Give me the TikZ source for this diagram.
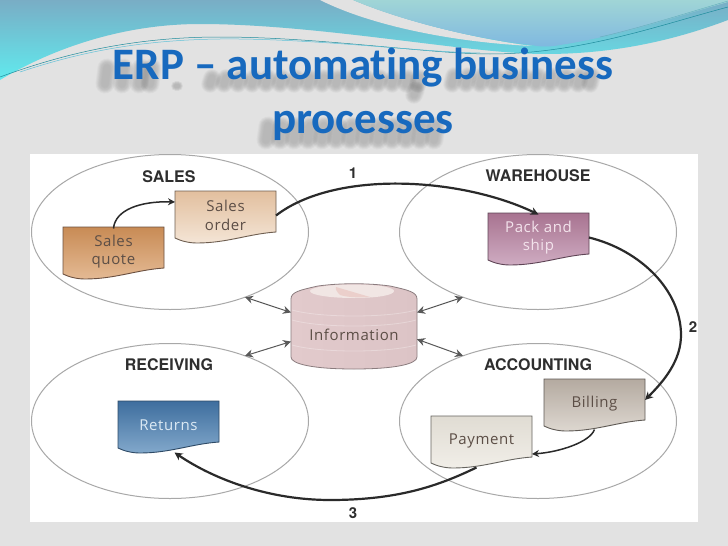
\documentclass[tikz,border=0pt]{standalone}
\usepackage{fontspec}
\usetikzlibrary{arrows.meta,shapes.geometric}
\newfontfamily\titlef[Ligatures=NoCommon]{Carlito}
\newfontfamily\labf{TeX Gyre Heros}
\newfontfamily\docf[LetterSpace=4.0]{Open Sans}
\definecolor{slidebg}{HTML}{E2E2E2}
\definecolor{titleblue}{HTML}{1769BE}
\definecolor{lineblk}{HTML}{2A2A2A}
\definecolor{ringgray}{HTML}{A8A8A8}
\definecolor{bandtop}{HTML}{79ADC5}
\definecolor{bandmid}{HTML}{78BBCF}
\definecolor{bandbot}{HTML}{60EAEE}
\definecolor{waveTop}{HTML}{A0D5D6}
\definecolor{waveMid}{HTML}{90CFDA}
\definecolor{waveBot}{HTML}{7FB8E0}
\definecolor{threadA}{HTML}{1E8C9C}
\definecolor{threadB}{HTML}{62C2D8}
\definecolor{quoteT}{HTML}{C88B55}\definecolor{quoteB}{HTML}{E4BA94}\definecolor{quoteE}{HTML}{6B5040}
\definecolor{orderT}{HTML}{E2BF9E}\definecolor{orderB}{HTML}{F4E5D6}\definecolor{orderE}{HTML}{6E5E50}
\definecolor{packT}{HTML}{A87390}\definecolor{packB}{HTML}{CFACC2}\definecolor{packE}{HTML}{5E4455}
\definecolor{retT}{HTML}{3E6E9E}\definecolor{retB}{HTML}{82A8CB}\definecolor{retE}{HTML}{2E4A66}
\definecolor{billT}{HTML}{B4AAA0}\definecolor{billB}{HTML}{DDD7D0}\definecolor{billE}{HTML}{5F5A55}
\definecolor{payT}{HTML}{E0DCD3}\definecolor{payB}{HTML}{F1EEE8}\definecolor{payE}{HTML}{66645F}
\definecolor{darkText}{HTML}{5C4E46}
\definecolor{paleMauve}{HTML}{F3E3EC}
\definecolor{paleBlue}{HTML}{DCEAF4}
\definecolor{cylL}{HTML}{E2CACC}\definecolor{cylM}{HTML}{F0E3E3}\definecolor{cylR}{HTML}{DCC4C6}
\definecolor{cylEdge}{HTML}{8A7C7E}\definecolor{cylTop}{HTML}{F1E6E4}\definecolor{cylWedge}{HTML}{EBCFCB}
\tikzset{
  x=1pt,y=-1pt,
  zone/.style={draw=ringgray,line width=1pt,ellipse,inner sep=0pt,outer sep=0pt,minimum width=277pt,minimum height=155pt},
  zonelabel/.style={font=\labf\bfseries\fontsize{16}{16}\selectfont,text=black!82},
  numlabel/.style={font=\labf\bfseries\fontsize{15}{15}\selectfont,text=black!82},
  docnode/.style={inner sep=0pt,outer sep=0pt,minimum width=101pt,minimum height=46pt,align=center,yshift=-1.5pt,font=\docf\fontsize{15}{18.5}\selectfont},
  docedge/.style={line width=.9pt},
  flow/.style={draw=lineblk,line width=2.2pt,-{Stealth[length=8pt,width=8pt]}},
  minorflow/.style={draw=lineblk,line width=1.5pt,-{Stealth[length=7pt,width=7pt]}},
  sync/.style={draw=black!65,line width=1pt,{Stealth[length=8pt,width=8pt]}-{Stealth[length=8pt,width=8pt]}},
  titletext/.style={font=\titlef\bfseries\fontsize{45}{45}\selectfont,inner sep=0pt,anchor=base},
  cylring/.style={draw=white,opacity=.3,line width=.8pt},
  blur/.style={black,opacity=.010,line cap=round},
}
% #1 name, #2 x, #3 y, #4 top, #5 bottom, #6 edge, #7 text colour, #8 text
\newcommand{\docshape}[8]{%
  \begin{scope}[shift={(#2,#3)}]
  \path[draw=#6,docedge,top color=#4,bottom color=#5]
    (0,0) -- (101,0) -- (101,41)
    .. controls (73,43) and (52,52) .. (22,52)
    .. controls (14,52) and (6,50) .. (0,47) -- cycle;
  \node[docnode,text=#7] (#1) at (50.5,23) {#8};
  \end{scope}
}
% soft blurred blob row standing for the title's cast shadow: x-list, y-from, y-to, width
\newcommand{\smudge}[4]{%
  \foreach \px in {#1}{
    \foreach \f in {1.3,1.25,1.2,1.15,1.1,1.05,1,.95,.9,.85,.8,.7,.6,.5}{
      \draw[blur,line width=#4*\f*1pt] (\px,#2) -- (\px-2,#3);
    }
  }
}
\begin{document}
\begin{tikzpicture}
\useasboundingbox (0,0) rectangle (728,546);
\fill[slidebg] (0,0) rectangle (728,546);
% header band
\path[top color=bandtop,middle color=bandmid,bottom color=bandbot]
  (0,0) -- (728,0) -- (728,20)
  .. controls (670,42) and (610,54) .. (545,54)
  .. controls (470,54) and (320,24) .. (200,24)
  .. controls (120,24) and (50,50) .. (0,80) -- cycle;
\fill[slidebg] (320,0) .. controls (370,25) and (450,42) .. (532,46)
  .. controls (470,38) and (400,20) .. (353,0) -- cycle;
\path[top color=waveTop,middle color=waveMid,bottom color=waveBot]
  (353,0) .. controls (400,20) and (470,38) .. (532,45)
  .. controls (540,47) and (550,47) .. (560,45)
  .. controls (620,36) and (680,15) .. (728,2) -- (728,0) -- cycle;
\draw[threadA,line width=.5pt] (0,77) .. controls (60,55) and (130,37) .. (220,37)
  .. controls (320,37) and (430,54) .. (490,54)
  .. controls (580,54) and (660,25) .. (728,7);
\draw[threadB,line width=.5pt] (20,72) .. controls (80,52) and (140,40) .. (220,39)
  .. controls (310,38) and (420,52) .. (480,53);
\draw[threadA!70,line width=.4pt] (600,37) .. controls (640,28) and (690,12) .. (728,1);
% title shadow (blurred, so drawn as soft shapes)
\smudge{107,124,141,152}{68}{84}{15}
\smudge{178}{86}{86}{8}
\smudge{212,226,240,254,268,282,296,310,324,338,352,366,380,394,408,420}{78}{84}{14}
\smudge{416}{90}{95}{14}
\smudge{454,468,482,496,510,524,538,552,566,580,592}{76}{84}{14}
\smudge{268,282,296,310,324,338,352,366,380,394,408,422,436}{126}{140}{15}
% figure panel
\fill[white] (30,154) rectangle (698,522);
% title
\node[titletext,text=titleblue] (titleA) at (363,79) {ERP – automating business};
\node[titletext,text=titleblue] (titleB) at (363,133) {processes};
% zones
\node[zone] (sales) at (170,232) {};
\node[zone] (warehouse) at (538,232) {};
\node[zone] (receiving) at (170,421) {};
\node[zone] (accounting) at (538,421) {};
\node[zonelabel] (lsales) at (169,177) {SALES};
\node[zonelabel] (lware) at (538,176) {WAREHOUSE};
\node[zonelabel] (lrecv) at (169,365) {RECEIVING};
\node[zonelabel] (lacct) at (538,365) {ACCOUNTING};
% information store
\node[inner sep=0pt,outer sep=0pt,minimum width=126pt,minimum height=85pt] (info) at (354,327) {};
\path[draw=cylEdge,line width=.8pt,left color=cylL,middle color=cylM,right color=cylR]
  (291,299) .. controls (291,292) and (300,290) .. (318,286)
  .. controls (340,283) and (368,283) .. (390,286)
  .. controls (408,290) and (417,292) .. (417,299)
  -- (417,357) .. controls (417,364) and (395,369) .. (354,369)
  .. controls (313,369) and (291,364) .. (291,357) -- cycle;
\fill[cylTop] (354,284.5) .. controls (382,284.5) and (394,288) .. (394,291)
  .. controls (394,295) and (378,298) .. (354,298)
  .. controls (330,298) and (310,295) .. (310,291)
  .. controls (310,288) and (326,284.5) .. (354,284.5) -- cycle;
\fill[cylWedge] (336,287) -- (370,297) .. controls (358,298) and (346,297) .. (340,295)
  .. controls (337,292) and (335,289) .. (336,287) -- cycle;
\draw[cylring] (292,310) .. controls (320,318) and (388,318) .. (416,310);
\draw[cylring] (292,320) .. controls (320,328) and (388,328) .. (416,320);
\draw[cylring] (292,345) .. controls (320,353) and (388,353) .. (416,345);
\node[font=\docf\fontsize{15}{18}\selectfont,text=darkText,inner sep=0pt] (infotext) at (354,335) {Information};
% documents
\docshape{squote}{63}{227}{quoteT}{quoteB}{quoteE}{darkText}{Sales\\quote}
\docshape{sorder}{175}{191}{orderT}{orderB}{orderE}{darkText}{Sales\\order}
\docshape{pack}{488}{213}{packT}{packB}{packE}{paleMauve}{Pack and\\ship}
\docshape{billing}{544}{379}{billT}{billB}{billE}{darkText}{Billing}
\docshape{payment}{431}{416}{payT}{payB}{payE}{darkText}{Payment}
\docshape{returns}{118}{401}{retT}{retB}{retE}{paleBlue}{Returns}
% process flows
\coordinate (peak2) at (681,335);
\coordinate (low3) at (330,500);
\draw[minorflow] (squote.north) .. controls (115,210) and (140,201) .. (sorder.165);
\draw[flow] (sorder.east) .. controls (335,170) and (460,177) .. (pack.north);
\draw[flow] (pack.east) .. controls (640,250) and (681,290) .. (peak2)
  .. controls (681,360) and (665,380) .. (billing.4);
\draw[minorflow] ([yshift=-3pt]billing.south) .. controls (590,442) and (560,452) .. (payment.-15);
\draw[flow] ([yshift=-4pt,xshift=-5pt]payment.south) .. controls (440,485) and (400,500) .. (low3)
  .. controls (270,500) and (215,480) .. ([yshift=-4pt,xshift=6pt]returns.south);
% links to the store
\draw[sync] (sales.-41) -- (info.167);
\draw[sync] (receiving.41) -- (info.193);
\draw[sync] (warehouse.221) -- (info.13);
\draw[sync] (accounting.139) -- (info.-11);
% step numbers
\node[numlabel] (n1) at (353,173) {1};
\node[numlabel] (n2) at (693,327) {2};
\node[numlabel] (n3) at (353,513) {3};
\end{tikzpicture}
\end{document}
